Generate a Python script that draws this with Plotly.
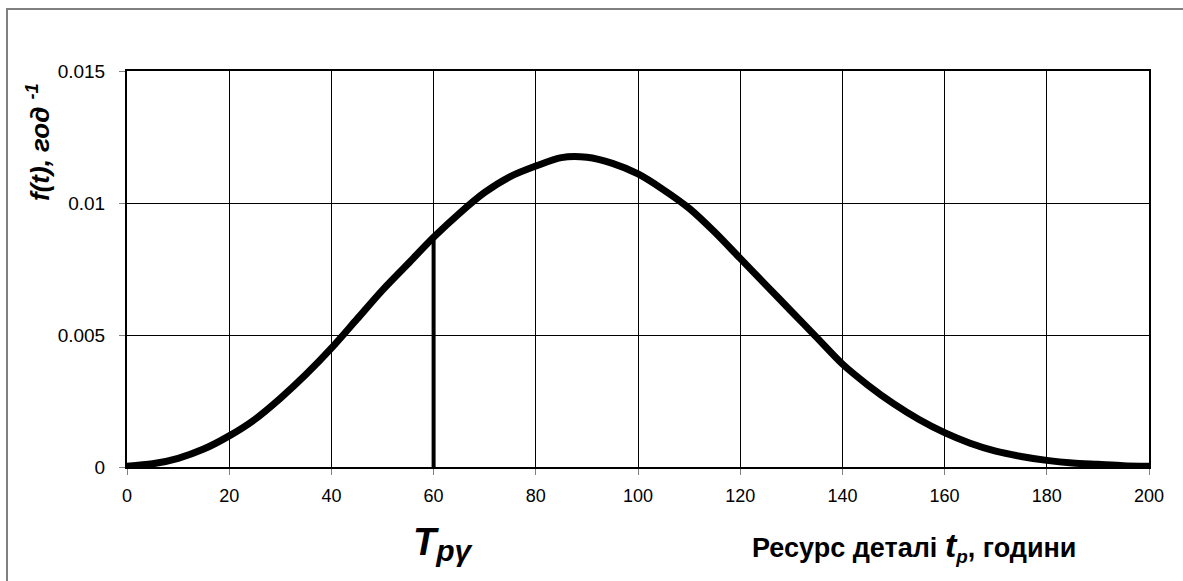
import plotly.graph_objects as go

# Resource of the part, hours, and the probability density f(t)
t_hours = [0, 5, 10, 15, 20, 25, 30, 35, 40, 45, 50, 55, 60, 65, 70, 75, 80, 85, 90,
           95, 100, 105, 110, 115, 120, 125, 130, 135, 140, 145, 150, 155, 160, 165,
           170, 175, 180, 185, 190, 195, 200]
f_density = [0.00003, 0.00012, 0.00033, 0.00068, 0.00118, 0.0018, 0.0026, 0.0035, 0.0045,
             0.0056, 0.0067, 0.0077, 0.0087, 0.0096, 0.0104, 0.0110, 0.0114, 0.01172,
             0.01173, 0.0115, 0.0111, 0.0105, 0.0098, 0.0089, 0.0079, 0.0069, 0.0059,
             0.0049, 0.0039, 0.0031, 0.0024, 0.0018, 0.0013, 0.0009, 0.0006, 0.0004,
             0.00025, 0.00015, 0.0001, 0.00005, 0.00003]

# Gamma-percent resource marker
t_gamma = 60
f_gamma = 0.0087

x_ticks = [0, 20, 40, 60, 80, 100, 120, 140, 160, 180, 200]
y_ticks = [0, 0.005, 0.01, 0.015]
y_tick_text = ["0", "0.005", "0.01", "0.015"]

fig = go.Figure()
fig.add_trace(go.Scatter(
    x=[t_gamma, t_gamma], y=[0, f_gamma], mode="lines",
    line=dict(color="black", width=4), showlegend=False, hoverinfo="skip"))
fig.add_trace(go.Scatter(
    x=t_hours, y=f_density, mode="lines",
    line=dict(color="black", width=7, shape="spline", smoothing=0.8),
    showlegend=False))

font_family = "Liberation Sans, Arial, sans-serif"

fig.update_layout(
    width=1183, height=581,
    margin=dict(l=127, r=34, t=71, b=114),
    paper_bgcolor="white", plot_bgcolor="white",
    font=dict(family=font_family, size=16, color="black"),
    xaxis=dict(range=[0, 200], tickvals=x_ticks, showgrid=True, gridcolor="black",
               gridwidth=1, zeroline=False, showline=True, linecolor="black",
               linewidth=2, mirror=True, ticks="outside", ticklen=6,
               tickcolor="#808080", tickfont=dict(size=18), ticklabelstandoff=5),
    yaxis=dict(range=[0, 0.015], tickvals=y_ticks, ticktext=y_tick_text,
               showgrid=True, gridcolor="black", gridwidth=1, zeroline=False,
               showline=True, linecolor="black", linewidth=2, mirror=True,
               ticks="outside", ticklen=6, tickcolor="#808080",
               tickfont=dict(size=19), ticklabelstandoff=10),
    shapes=[dict(type="rect", xref="paper", yref="paper",
                 x0=-120 / 1022, x1=1.2, y0=-0.5, y1=1 + 62 / 396,
                 line=dict(color="#808080", width=2), layer="below")],
    annotations=[
        dict(text="<b><i>f(t), год <sup>-1</sup></i></b>", textangle=-90,
             xref="paper", yref="paper", x=-89 / 1022, y=(467 - 142) / 396,
             xanchor="center", yanchor="middle", showarrow=False,
             font=dict(size=26, family=font_family)),
        dict(text="<b><i><span style='font-size:38px'>T</span><sub><span style='font-size:30px'>pγ</span></sub></i></b>",
             xref="paper", yref="paper",
             x=(443 - 127) / 1022, y=-(544 - 467) / 396,
             xanchor="center", yanchor="middle", showarrow=False,
             font=dict(size=30, family=font_family)),
        dict(text="<b>Ресурс деталі <i><span style='font-size:34px'>t</span><sub>p</sub></i>, години</b>",
             xref="paper", yref="paper", x=(914 - 127) / 1022,
             y=-(546 - 467) / 396, xanchor="center", yanchor="middle",
             showarrow=False, font=dict(size=27, family=font_family)),
    ],
)

fig.write_html("out.html")
